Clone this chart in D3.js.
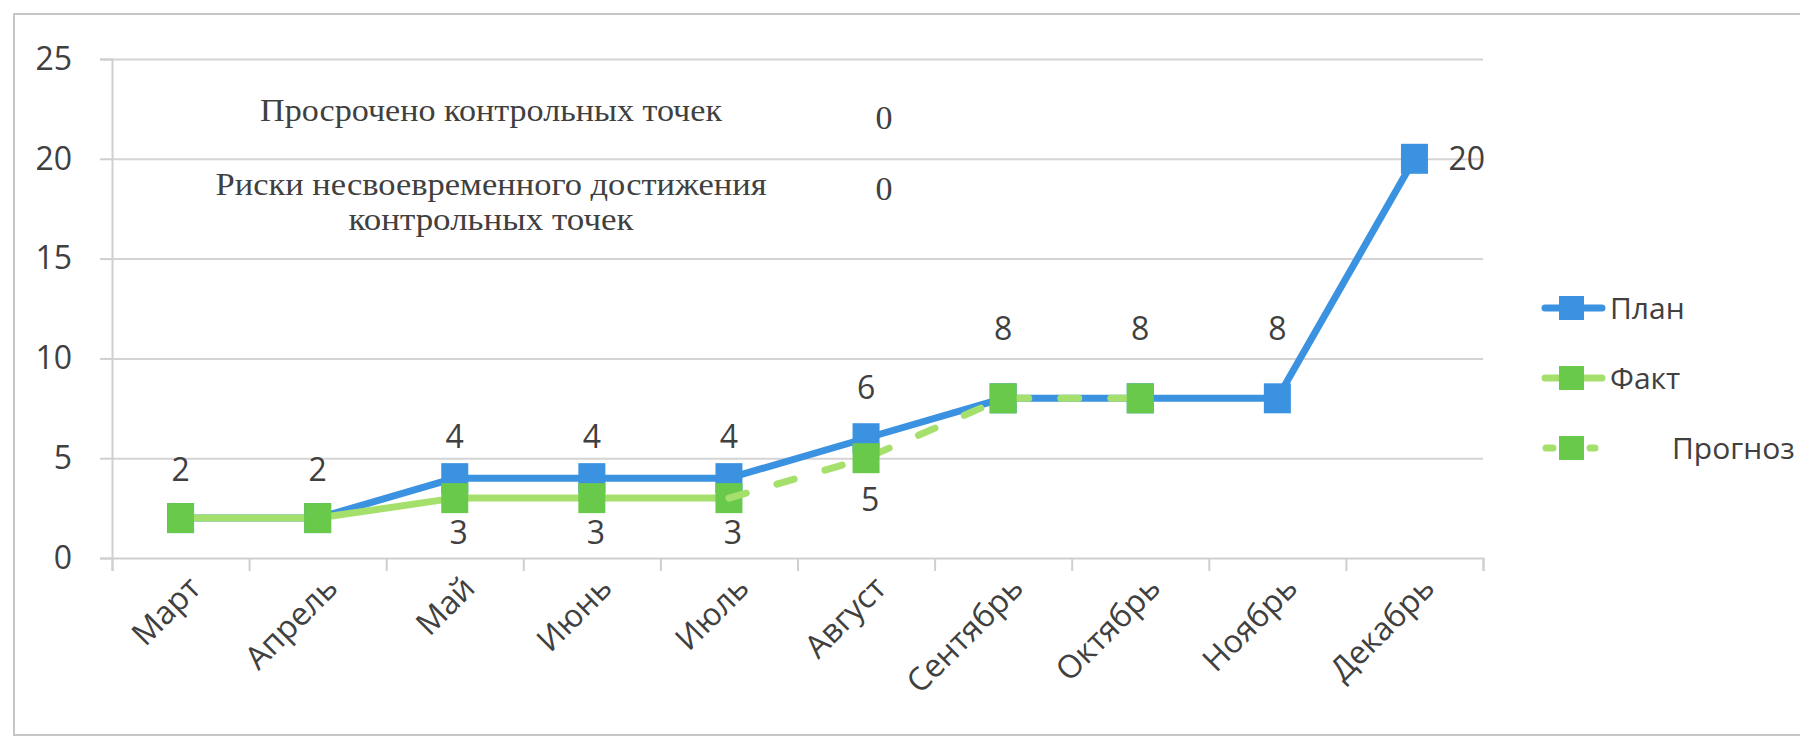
<!DOCTYPE html>
<html>
<head>
<meta charset="utf-8">
<script src="https://d3js.org/d3.v7.min.js"></script>
<style>
  body { margin: 0; background: #fff; }
  text { fill: #404040; }
</style>
</head>
<body>
<svg id="chart" width="1800" height="739"></svg>
<script>
// data
var months = ["Март", "Апрель", "Май", "Июнь", "Июль", "Август", "Сентябрь", "Октябрь", "Ноябрь", "Декабрь"];
var plan     = [2, 2, 4, 4, 4, 6, 8, 8, 8, 20];
var fact     = [2, 2, 3, 3, 3, null, null, null, null, null];
var forecast = [null, null, null, null, 3, 5, 8, 8, null, null];
var yTicks = [0, 5, 10, 15, 20, 25];
var seriesNames = ["План", "Факт", "Прогноз"];
var boxLabels = [["Просрочено контрольных точек"], ["Риски несвоевременного достижения", "контрольных точек"]];
var boxValues = [0, 0];

var blue = "#3a92e0", greenLine = "#a6e06c", greenMark = "#68c94a";
var numFont = "'Open Sans', sans-serif";
var plotLeft = 112, plotRight = 1483, plotTop = 59, plotBottom = 558;

var svg = d3.select("#chart");
svg.append("rect").attr("width", 1800).attr("height", 739).attr("fill", "#fff");
// scan frame
svg.append("rect").attr("x", 14).attr("y", 14).attr("width", 1800).attr("height", 721)
  .attr("fill", "none").attr("stroke", "#c6c6c6").attr("stroke-width", 2);

var x = d3.scalePoint().domain(months).range([plotLeft, plotRight]).padding(0.5);
var xb = d3.scaleLinear().domain([0, months.length]).range([plotLeft, plotRight]);
var y = d3.scaleLinear().domain([0, 25]).range([plotBottom, plotTop]);

// gridlines
svg.append("g").attr("transform", "translate(" + plotLeft + ",0)")
  .call(d3.axisLeft(y).tickValues(yTicks.slice(1)).tickSize(-(plotRight - plotLeft)).tickFormat(""))
  .call(g => g.select(".domain").remove())
  .call(g => g.selectAll("line").attr("stroke", "#d4d4d4").attr("stroke-width", 2));

// y axis
svg.append("g").attr("transform", "translate(" + plotLeft + ",0)")
  .call(d3.axisLeft(y).tickValues(yTicks).tickSize(12).tickPadding(28))
  .call(g => g.select(".domain").attr("stroke", "#cfcfcf").attr("stroke-width", 2))
  .call(g => g.selectAll("line").attr("stroke", "#cfcfcf").attr("stroke-width", 2))
  .call(g => g.selectAll("text").attr("font-family", numFont).attr("font-size", 32).attr("fill", "#404040"));

// x axis, ticks between categories
svg.append("g").attr("transform", "translate(0," + plotBottom + ")")
  .call(d3.axisBottom(xb).tickValues(d3.range(months.length + 1)).tickSize(13).tickFormat(""))
  .call(g => g.select(".domain").attr("stroke", "#cfcfcf").attr("stroke-width", 2))
  .call(g => g.selectAll("line").attr("stroke", "#cfcfcf").attr("stroke-width", 2));

svg.append("g").selectAll("text").data(months).enter().append("text")
  .attr("transform", d => "translate(" + (x(d) + 22) + ",590) rotate(-45)")
  .attr("text-anchor", "end")
  .attr("font-family", "Open Sans").attr("font-size", 32)
  .text(d => d);

function pts(vals) {
  return vals.map((v, i) => ({ m: months[i], v: v })).filter(d => d.v !== null);
}
var line = d3.line().x(d => x(d.m)).y(d => y(d.v));
var mw = 27, mh = 30;

function series(vals, stroke, mark, dash, markFilter) {
  var p = pts(vals);
  svg.append("path").datum(p).attr("d", line).attr("fill", "none")
    .attr("stroke", stroke).attr("stroke-width", 7)
    .attr("stroke-linecap", dash ? "round" : "butt").attr("stroke-linejoin", "round")
    .attr("stroke-dasharray", dash);
  svg.append("g").selectAll("rect").data(p.filter(markFilter)).enter().append("rect")
    .attr("x", d => x(d.m) - mw / 2).attr("y", d => y(d.v) - mh / 2)
    .attr("width", mw).attr("height", mh).attr("fill", mark);
}
series(plan, blue, blue, null, d => true);
series(fact, greenLine, greenMark, null, d => true);
series(forecast, greenLine, greenMark, "18,32", d => d.m !== "Июль");

// data labels
var planLift = [48, 48, 41, 41, 41, 50, 70, 70, 70, 0];
svg.append("g").selectAll("text").data(pts(plan)).enter().append("text")
  .attr("x", (d, i) => i === 9 ? x(d.m) + 34 : x(d.m))
  .attr("y", (d, i) => y(d.v) - planLift[i])
  .attr("dy", "0.35em")
  .attr("text-anchor", (d, i) => i === 9 ? "start" : "middle")
  .attr("font-family", numFont).attr("font-size", 32)
  .text(d => d.v);
svg.append("g").selectAll("text").data(pts(fact).filter(d => d.v !== 2)).enter().append("text")
  .attr("x", d => x(d.m) + 4).attr("y", d => y(d.v) + 35).attr("dy", "0.35em")
  .attr("text-anchor", "middle").attr("font-family", numFont).attr("font-size", 32)
  .text(d => d.v);
svg.append("g").selectAll("text").data(pts(forecast).filter(d => d.m === "Август")).enter().append("text")
  .attr("x", d => x(d.m) + 4).attr("y", d => y(d.v) + 42).attr("dy", "0.35em")
  .attr("text-anchor", "middle").attr("font-family", numFont).attr("font-size", 32)
  .text(d => d.v);

// text box
var box = svg.append("g").attr("font-family", "Liberation Serif").attr("font-size", 31);
var boxY = [[121], [195, 229.5]], boxW = [[462], [551, 285]], valY = [129, 200];
boxLabels.forEach(function (lines, k) {
  lines.forEach(function (t, j) {
    box.append("text").attr("x", 491).attr("y", boxY[k][j]).attr("text-anchor", "middle")
      .attr("textLength", boxW[k][j]).attr("lengthAdjust", "spacingAndGlyphs")
      .attr("fill", "#262626").text(t);
  });
  box.append("text").attr("x", 884).attr("y", valY[k]).attr("text-anchor", "middle")
    .attr("font-size", 34).attr("fill", "#262626").text(boxValues[k]);
});

// legend
var legY = [308, 378, 448];
var leg = svg.append("g");
seriesNames.forEach(function (name, i) {
  var col = i === 0 ? blue : greenLine, mk = i === 0 ? blue : greenMark;
  if (i < 2) {
    leg.append("line").attr("x1", 1545).attr("x2", 1602).attr("y1", legY[i]).attr("y2", legY[i])
      .attr("stroke", col).attr("stroke-width", 7).attr("stroke-linecap", "round");
  } else {
    leg.append("line").attr("x1", 1546).attr("x2", 1553).attr("y1", legY[i]).attr("y2", legY[i])
      .attr("stroke", col).attr("stroke-width", 7).attr("stroke-linecap", "round");
    leg.append("line").attr("x1", 1590).attr("x2", 1595).attr("y1", legY[i]).attr("y2", legY[i])
      .attr("stroke", col).attr("stroke-width", 7).attr("stroke-linecap", "round");
  }
  leg.append("rect").attr("x", 1559).attr("y", legY[i] - 12).attr("width", 25).attr("height", 24).attr("fill", mk);
  leg.append("text").attr("x", i === 2 ? 1672 : 1610).attr("y", legY[i]).attr("dy", "0.35em")
    .attr("font-family", "Open Sans").attr("font-size", 30).text(name);
});
</script>
</body>
</html>
